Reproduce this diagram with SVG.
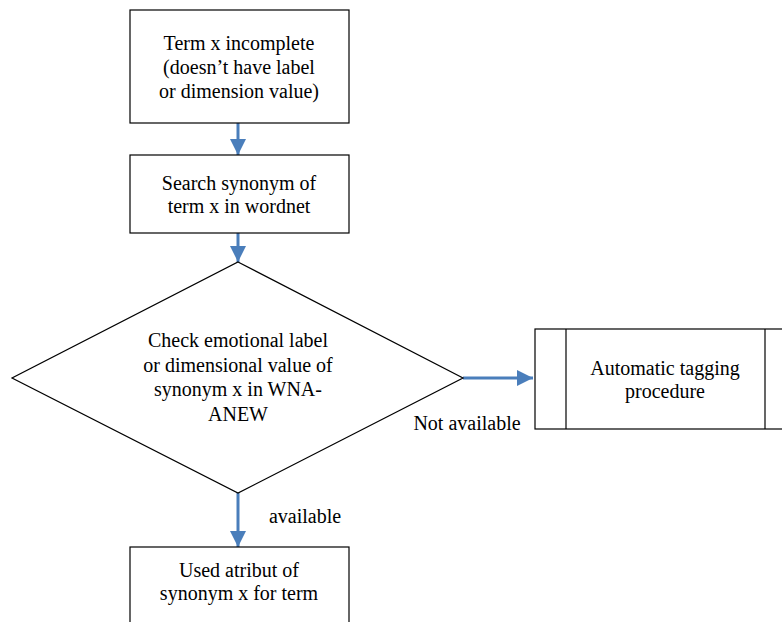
<svg xmlns="http://www.w3.org/2000/svg" width="782" height="622" viewBox="0 0 782 622">
<style>
.box{fill:#fff;stroke:#000;stroke-width:1.2}
.c{stroke:#4a7ebb;stroke-width:3;fill:none}
</style>
<defs>
<marker id="ah" markerUnits="userSpaceOnUse" markerWidth="18" markerHeight="18" refX="16" refY="8" orient="auto">
<path d="M0,0 L16,8 L0,16 Z" fill="#4a7ebb"/>
</marker>
</defs>
<rect width="782" height="622" fill="#fff"/>
<g font-family="Liberation Serif, Tinos, Times New Roman, DejaVu Serif, serif" font-size="20" text-anchor="middle" fill="#000">
<g id="connectors">
<line class="c" x1="238" y1="123" x2="238" y2="155" marker-end="url(#ah)"/>
<line class="c" x1="238" y1="233" x2="238" y2="262" marker-end="url(#ah)"/>
<line class="c" x1="463" y1="378" x2="533" y2="378" marker-end="url(#ah)"/>
<line class="c" x1="238" y1="493" x2="238" y2="547" marker-end="url(#ah)"/>
<text x="467" y="430">Not available</text>
<text x="305" y="523">available</text>
</g>
<g id="n1">
<rect class="box" x="130" y="10" width="219" height="113"/>
<text x="239" y="50">Term x incomplete</text>
<text x="239" y="74">(doesn’t have label</text>
<text x="239" y="98">or dimension value)</text>
</g>
<g id="n2">
<rect class="box" x="130" y="155" width="219" height="78"/>
<text x="239" y="190">Search synonym of</text>
<text x="239" y="213">term x in wordnet</text>
</g>
<g id="n3">
<polygon class="box" points="238,262 463,378 238,493 12,378"/>
<text x="238" y="347">Check emotional label</text>
<text x="238" y="372">or dimensional value of</text>
<text x="238" y="396">synonym x in WNA-</text>
<text x="238" y="421">ANEW</text>
</g>
<g id="n4">
<rect class="box" x="535" y="329" width="262" height="100"/>
<line class="box" x1="566" y1="329" x2="566" y2="429"/>
<line class="box" x1="765" y1="329" x2="765" y2="429"/>
<text x="665" y="375">Automatic tagging</text>
<text x="665" y="398">procedure</text>
</g>
<g id="n5">
<rect class="box" x="130" y="547" width="219" height="90"/>
<text x="239" y="577">Used atribut of</text>
<text x="239" y="600">synonym x for term</text>
</g>
</g>
</svg>
